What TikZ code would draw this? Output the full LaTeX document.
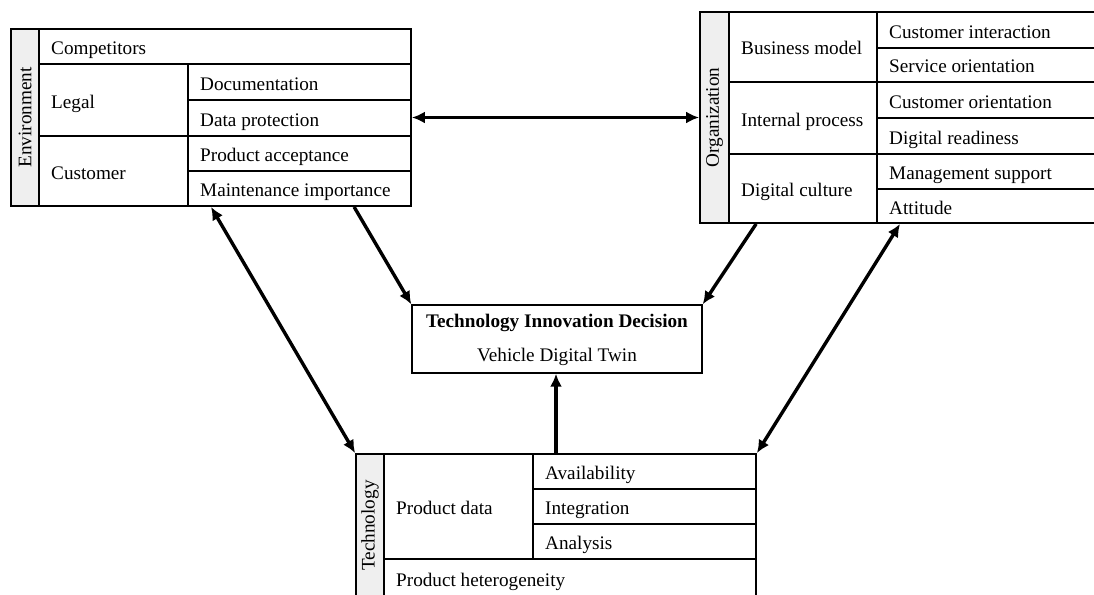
\documentclass[tikz,border=0pt]{standalone}
\usepackage{fontspec}
\setmainfont{Liberation Serif}
\usetikzlibrary{arrows.meta,calc}
\definecolor{headfill}{HTML}{EFEFEF}
\begin{document}
\begin{tikzpicture}[x=1pt,y=-1pt,
  every node/.style={font=\fontsize{19.2}{23}\selectfont},
  frame/.style={draw, line width=1.8pt, inner sep=0pt},
  grid/.style={line width=1.2pt},
  txt/.style={anchor=west, inner sep=0pt, text height=19pt, text depth=3pt},
  head/.style={rotate=90, inner sep=0pt},
  oneway/.style={line width=3.4pt, -{Latex[length=13pt,width=12pt]}},
  twoway/.style={line width=3.4pt, {Latex[length=13pt,width=12pt]}-{Latex[length=13pt,width=12pt]}}]
\useasboundingbox (0,0) rectangle (1094,594);
\clip (0,0) rectangle (1094,594);

% ---------- Environment ----------
\fill[headfill] (11,29) rectangle (39,206);
\draw[grid] (39,29) -- (39,206)
            (39,64) -- (411,64)
            (188,64) -- (188,206)
            (188,100) -- (411,100)
            (39,136) -- (411,136)
            (188,171) -- (411,171);
\node[frame, minimum width=400pt, minimum height=177pt] (env) at (211,117.5) {};
\node[head] (env-h) at (25,117.5) {Environment};
\node[txt] (env-comp) at (51,46.5) {Competitors};
\node[txt] (env-legal) at (51,100) {Legal};
\node[txt] (env-doc) at (200,82) {Documentation};
\node[txt] (env-dp) at (200,118) {Data protection};
\node[txt] (env-cust) at (51,171) {Customer};
\node[txt] (env-pa) at (200,153.5) {Product acceptance};
\node[txt] (env-mi) at (200,188.5) {Maintenance importance};

% ---------- Organization ----------
\fill[headfill] (700,12) rectangle (729,223);
\draw[grid] (729,12) -- (729,223)
            (877,12) -- (877,223)
            (877,48) -- (1100,48)
            (729,82) -- (1100,82)
            (877,118) -- (1100,118)
            (729,154) -- (1100,154)
            (877,189) -- (1100,189);
\node[frame, minimum width=400pt, minimum height=211pt] (org) at (900,117.5) {};
\node[head] (org-h) at (714.5,117.5) {Organization};
\node[txt] (org-bm) at (741,47) {Business model};
\node[txt] (org-ip) at (741,118) {Internal process};
\node[txt] (org-dc) at (741,188.5) {Digital culture};
\node[txt] (org-ci) at (889,30) {Customer interaction};
\node[txt] (org-so) at (889,65) {Service orientation};
\node[txt] (org-co) at (889,100) {Customer orientation};
\node[txt] (org-dr) at (889,136) {Digital readiness};
\node[txt] (org-ms) at (889,171.5) {Management support};
\node[txt] (org-at) at (889,206) {Attitude};

% ---------- Technology ----------
\fill[headfill] (356,454) rectangle (384,597);
\draw[grid] (384,454) -- (384,597)
            (533,454) -- (533,559)
            (533,489) -- (756,489)
            (533,524) -- (756,524)
            (384,559) -- (756,559);
\node[frame, minimum width=400pt, minimum height=143pt] (tech) at (556,525.5) {};
\node[head] (tech-h) at (370,525.5) {Technology};
\node[txt] (tech-pd) at (396,506.5) {Product data};
\node[txt] (tech-av) at (545,471.5) {Availability};
\node[txt] (tech-in) at (545,506.5) {Integration};
\node[txt] (tech-an) at (545,541.5) {Analysis};
\node[txt] (tech-ph) at (396,578) {Product heterogeneity};

% ---------- Decision ----------
\node[frame, line width=1.4pt, minimum width=290pt, minimum height=68pt] (tid) at (557,339) {};
\node[inner sep=0pt] (tid-t) at (557,323) {\bfseries Technology Innovation Decision};
\node[inner sep=0pt] (tid-s) at (557,357) {Vehicle Digital Twin};

% ---------- Connectors ----------
\draw[twoway] (env.east) -- (org.west);
\draw[oneway] ($(env.south west)+(344,0)$) -- (tid.north west);
\draw[oneway] ($(org.south west)+(57,0)$) -- (tid.north east);
\draw[twoway] (env.south) -- (tech.north west);
\draw[twoway] (org.south) -- (tech.north east);
\draw[oneway] (tech.north) -- (tech.north |- tid.south);
\end{tikzpicture}
\end{document}
